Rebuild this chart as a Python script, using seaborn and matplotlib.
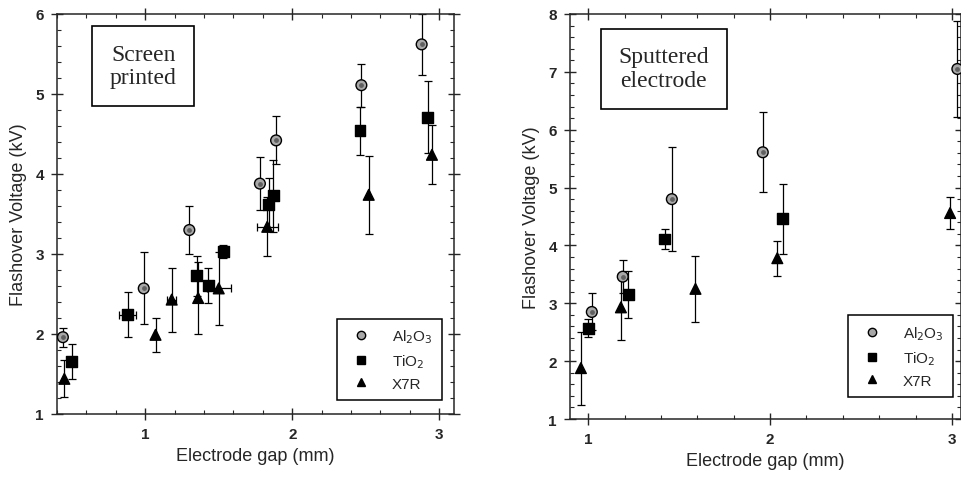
import matplotlib
matplotlib.use("Agg")
import matplotlib.pyplot as plt
from matplotlib.ticker import MultipleLocator
import seaborn as sns
import pandas as pd

# screen printed electrodes (left panel)
sp_al_x = [0.44, 0.99, 1.30, 1.78, 1.89, 2.47, 2.88]
sp_al_y = [1.96, 2.57, 3.30, 3.88, 4.42, 5.11, 5.62]
sp_al_e = [0.12, 0.45, 0.30, 0.33, 0.30, 0.27, 0.38]
sp_al_xe = [0, 0, 0, 0, 0, 0, 0]

sp_ti_x = [0.50, 0.88, 1.35, 1.43, 1.53, 1.84, 1.87, 2.46, 2.92]
sp_ti_y = [1.66, 2.24, 2.73, 2.61, 3.03, 3.62, 3.73, 4.54, 4.71]
sp_ti_e = [0.22, 0.28, 0.25, 0.22, 0.08, 0.33, 0.45, 0.30, 0.45]
sp_ti_xe = [0, 0.06, 0, 0, 0, 0, 0, 0, 0]

sp_x7_x = [0.45, 1.07, 1.18, 1.36, 1.50, 1.83, 2.52, 2.95]
sp_x7_y = [1.44, 1.99, 2.43, 2.45, 2.57, 3.34, 3.74, 4.24]
sp_x7_e = [0.23, 0.21, 0.40, 0.45, 0.46, 0.37, 0.49, 0.37]
sp_x7_xe = [0, 0, 0.03, 0, 0.08, 0.07, 0, 0]

# sputtered electrodes (right panel)
su_al_x = [1.02, 1.19, 1.46, 1.96, 3.03]
su_al_y = [2.85, 3.46, 4.80, 5.61, 7.05]
su_al_e = [0.32, 0.28, 0.90, 0.69, 0.83]

su_ti_x = [1.00, 1.22, 1.42, 2.07]
su_ti_y = [2.57, 3.15, 4.11, 4.46]
su_ti_e = [0.15, 0.41, 0.17, 0.60]

su_x7_x = [0.96, 1.18, 1.59, 2.04, 2.99]
su_x7_y = [1.88, 2.93, 3.25, 3.78, 4.56]
su_x7_e = [0.63, 0.57, 0.57, 0.30, 0.27]

labels = ["Al$_2$O$_3$", "TiO$_2$", "X7R"]

sns.set_style("ticks")
plt.rcParams["font.family"] = ["Liberation Sans", "DejaVu Sans"]

def make_df(xs, ys, es):
    rows = []
    for lab, x, y, e in zip(labels, xs, ys, es):
        for a, b, c in zip(x, y, e):
            rows.append({"gap": a, "volt": b, "err": c, "mat": lab})
    return pd.DataFrame(rows)

df_sp = make_df([sp_al_x, sp_ti_x, sp_x7_x], [sp_al_y, sp_ti_y, sp_x7_y],
                [sp_al_e, sp_ti_e, sp_x7_e])
df_su = make_df([su_al_x, su_ti_x, su_x7_x], [su_al_y, su_ti_y, su_x7_y],
                [su_al_e, su_ti_e, su_x7_e])

fig = plt.figure(figsize=(9.61, 4.81), dpi=100)
ax1 = fig.add_axes([57/961, 1-415/481, 397/961, 400/481])
ax2 = fig.add_axes([570/961, 1-420/481, 391/961, 405/481])

markers = {labels[0]: "o", labels[1]: "s", labels[2]: "^"}
palette = {labels[0]: "#a8a8a8", labels[1]: "black", labels[2]: "black"}

def draw(ax, df, xerrs, box_text, box_xy, ylim, xlim, leg_loc):
    for i, lab in enumerate(labels):
        sub = df[df["mat"] == lab]
        xe = xerrs[i] if xerrs is not None else None
        ax.errorbar(sub["gap"], sub["volt"], yerr=sub["err"], xerr=xe,
                    fmt="none", ecolor="black", elinewidth=0.9, capsize=3,
                    capthick=0.9, zorder=1)
    sns.scatterplot(data=df, x="gap", y="volt", hue="mat", style="mat",
                    markers=markers, palette=palette, s=60, edgecolor="black",
                    linewidth=1.0, ax=ax, zorder=3, legend=False)
    # inner dot on the alumina markers
    al = df[df["mat"] == labels[0]]
    ax.scatter(al["gap"], al["volt"], s=6, color="#606060", zorder=4)
    ax.set_xlim(*xlim)
    ax.set_ylim(*ylim)
    ax.xaxis.set_major_locator(MultipleLocator(1))
    ax.xaxis.set_minor_locator(MultipleLocator(0.2))
    ax.yaxis.set_major_locator(MultipleLocator(1))
    ax.yaxis.set_minor_locator(MultipleLocator(0.2))
    ax.tick_params(which="major", direction="inout", length=9, width=1,
                   top=True, right=True, labelsize=11, pad=5)
    ax.tick_params(which="minor", direction="in", length=3, width=0.8,
                   top=True, right=True)
    for t in ax.get_xticklabels() + ax.get_yticklabels():
        t.set_fontweight("bold")
    for sp in ax.spines.values():
        sp.set_linewidth(1.1)
    ax.set_xlabel("Electrode gap (mm)", fontsize=13, labelpad=4)
    ax.set_ylabel("Flashover Voltage (kV)", fontsize=13, labelpad=6)
    ax.text(box_xy[0], box_xy[1], box_text, transform=ax.transAxes,
            family=["Liberation Serif", "DejaVu Serif"], fontsize=17,
            ha="center", va="center", linespacing=1.15,
            bbox=dict(boxstyle="square,pad=0.75", fc="white", ec="black", lw=1.2))
    handles = [
        plt.Line2D([], [], ls="none", marker="o", mfc="#a8a8a8", mec="black", ms=6),
        plt.Line2D([], [], ls="none", marker="s", mfc="black", mec="black", ms=6),
        plt.Line2D([], [], ls="none", marker="^", mfc="black", mec="black", ms=6),
    ]
    leg = ax.legend(handles, labels, loc=leg_loc, fancybox=False, framealpha=1,
                    edgecolor="black", fontsize=11, handletextpad=1.0,
                    borderpad=0.6, labelspacing=0.45)
    leg.get_frame().set_linewidth(1.1)

draw(ax1, df_sp, [sp_al_xe, sp_ti_xe, sp_x7_xe], "Screen\nprinted",
     (0.217, 0.87), (1, 6), (0.4, 3.1), (0.705, 0.035))
draw(ax2, df_su, None, "Sputtered\nelectrode",
     (0.24, 0.865), (1, 8), (0.9, 3.05), (0.71, 0.055))

fig.savefig("out.png", dpi=100)
